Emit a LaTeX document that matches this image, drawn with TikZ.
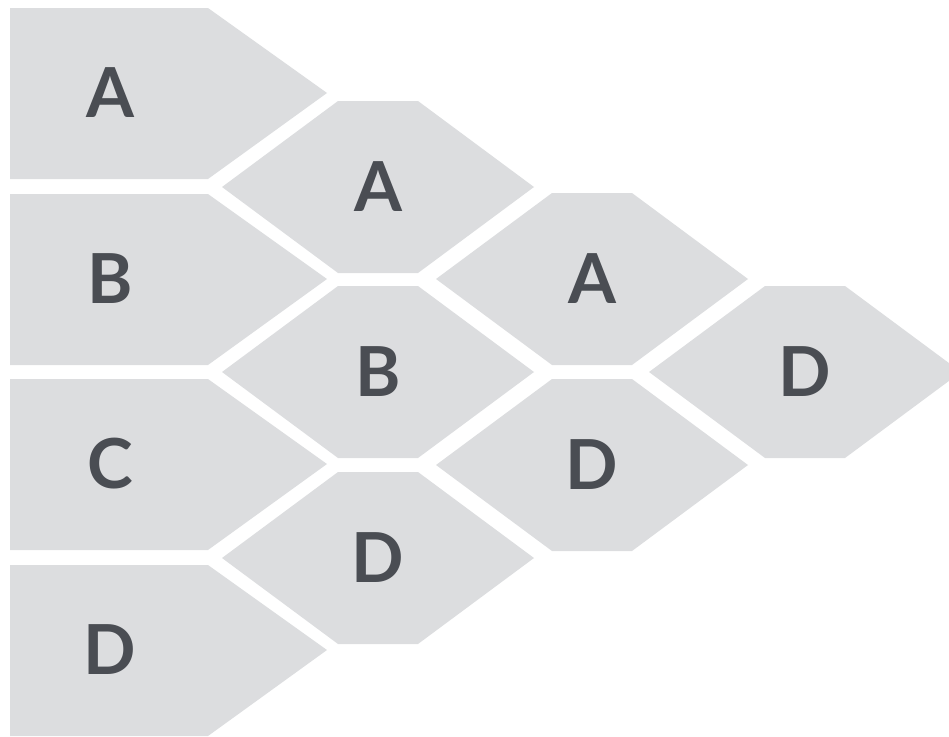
\documentclass[tikz,border=0pt]{standalone}
\usepackage{fontspec}
\setmainfont{Lato}
\usepackage{tikz}
\definecolor{Cell}{HTML}{DCDDDF}
\definecolor{Ink}{HTML}{4A4D53}
\tikzset{
  letter/.style={text=Ink,font=\fontsize{69}{69}\selectfont\bfseries,inner sep=0pt},
}

\begin{document}
\begin{tikzpicture}[x=1pt,y=-1pt]
  \useasboundingbox (0,0) rectangle (949,736);
  % first round: flat on the left
  \foreach \l/\y/\i in {A/93/1,B/279/2,C/464/3,D/650/4}{
    \fill[Cell](10,\y-85)--(208,\y-85)--(327,\y)--(208,\y+86)--(10,\y+86)--cycle;
    \node[letter](c0r\i)at(110,\y){\l};}
  % later rounds: hexagons
  \foreach \l/\x/\y/\c/\i in {A/378/187/1/1,B/378/372/1/2,D/378/558/1/3,
                              A/592/279/2/1,D/592/465/2/2,
                              D/805/372/3/1}{
    \fill[Cell](\x-156,\y)--(\x-40,\y-86)--(\x+40,\y-86)--(\x+156,\y)--(\x+40,\y+86)--(\x-40,\y+86)--cycle;
    \node[letter](c\c r\i)at(\x,\y){\l};}
\end{tikzpicture}
\end{document}
